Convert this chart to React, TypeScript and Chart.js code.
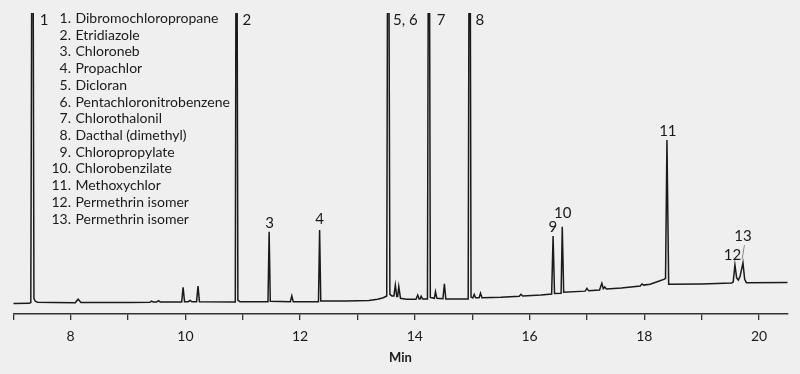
import React, { useEffect, useRef } from "react";
import { Chart, registerables } from "chart.js";

Chart.register(...registerables);

// Chromatogram trace (retention time in min, detector signal in relative units)
const traceTime = [
  7.0, 7.28, 7.305, 7.335, 7.36, 7.38, 7.42, 7.7, 8.08, 8.13, 8.18, 9.0, 9.38, 9.41, 9.44, 9.5, 9.53, 9.56,
  9.935, 9.96, 9.985, 10.05, 10.08, 10.11, 10.195, 10.22, 10.245, 10.87, 10.89, 10.915, 10.95,
  11.44, 11.46, 11.48, 11.83, 11.855, 11.88, 12.32, 12.34, 12.36, 12.8, 13.2, 13.35, 13.45, 13.51,
  13.535, 13.565, 13.6, 13.635, 13.66, 13.685, 13.7, 13.72, 13.75, 13.85, 14.02, 14.05, 14.075, 14.09,
  14.11, 14.135, 14.22, 14.245, 14.27, 14.34, 14.36, 14.385, 14.49, 14.515, 14.54, 14.93, 14.955,
  14.98, 15.01, 15.035, 15.06, 15.12, 15.145, 15.17, 15.5, 15.82, 15.85, 15.88, 16.2, 16.385, 16.41,
  16.435, 16.55, 16.57, 16.595, 16.97, 17.0, 17.03, 17.22, 17.26, 17.285, 17.31, 17.34, 17.6, 17.93,
  17.96, 17.99, 18.1, 18.25, 18.34, 18.37, 18.395, 18.425, 19.0, 19.52, 19.55, 19.58, 19.61, 19.64,
  19.67, 19.72, 19.75, 19.78, 20.5,
];
const traceSignal = [
  3.5, 3.55, 3.8, 200, 5.2, 4.3, 3.9, 3.8, 3.75, 4.9, 3.8, 3.85, 3.9, 4.3, 3.95, 3.95, 4.4, 4.0,
  4.0, 8.9, 4.1, 4.1, 4.5, 4.1, 4.1, 9.3, 4.1, 3.95, 200, 4.6, 4.1,
  4.1, 27.3, 4.2, 4.1, 6.0, 4.1, 4.1, 27.9, 4.3, 4.3, 4.5, 4.9, 5.4, 6.0,
  200, 6.5, 6.0, 6.0, 9.6, 5.8, 5.8, 9.1, 5.2, 4.9, 4.9, 6.3, 5.0, 5.0,
  5.9, 5.0, 5.0, 200, 5.5, 5.2, 7.4, 5.2, 5.1, 10.0, 5.0, 5.0, 200,
  5.6, 5.3, 6.5, 5.4, 5.4, 6.9, 5.4, 5.55, 5.9, 6.55, 6.0, 6.3, 6.65, 25.9,
  6.85, 6.9, 29.0, 7.2, 7.6, 8.5, 7.7, 8.0, 10.2, 8.4, 9.0, 8.3, 8.6, 9.3,
  10.0, 9.6, 9.9, 10.9, 11.5, 11.8, 57.8, 9.9, 10.0, 10.3, 10.6, 16.3, 12.0, 11.3,
  12.5, 17.0, 11.5, 10.4, 10.5,
];

// Peak labels (text, retention time, signal level where the label sits)
const peakLabelText = ["1", "2", "3", "4", "5, 6", "7", "8", "9", "10", "11", "12", "13"];
const peakLabelTime = [7.536, 11.073, 11.468, 12.34, 13.836, 14.459, 15.133, 16.404, 16.579, 18.411, 19.539, 19.721];
const peakLabelSignal = [97.7, 97.7, 30.3, 31.6, 97.7, 97.7, 97.7, 29.0, 33.65, 60.8, 19.7, 25.9];
// Leader line for peak 13 (time, signal)
const leaderTime = [19.746, 19.706];
const leaderSignal = [22.9, 18.2];

// Compound list
const compoundNumbers = ["1.", "2.", "3.", "4.", "5.", "6.", "7.", "8.", "9.", "10.", "11.", "12.", "13."];
const compoundNames = [
  "Dibromochloropropane",
  "Etridiazole",
  "Chloroneb",
  "Propachlor",
  "Dicloran",
  "Pentachloronitrobenzene",
  "Chlorothalonil",
  "Dacthal (dimethyl)",
  "Chloropropylate",
  "Chlorobenzilate",
  "Methoxychlor",
  "Permethrin isomer",
  "Permethrin isomer",
];

const xTicks = [7, 8, 9, 10, 11, 12, 13, 14, 15, 16, 17, 18, 19, 20];

const FONT = "Lato, 'Open Sans', sans-serif";
const INK = "#1a1a1a";

export default function App() {
  const ref = useRef<HTMLCanvasElement | null>(null);

  useEffect(() => {
    document.body.style.margin = "0";
    document.body.style.background = "#efefef";
    const canvas = ref.current;
    if (!canvas) return;

    const annotations = {
      id: "annotations",
      afterDatasetsDraw(chart: any) {
        const ctx = chart.ctx;
        const xs = chart.scales.x;
        const ys = chart.scales.y;
        ctx.save();
        ctx.fillStyle = INK;
        ctx.textBaseline = "middle";
        ctx.font = `15px ${FONT}`;
        ctx.textAlign = "center";
        peakLabelText.forEach((t, i) => {
          ctx.fillText(t, xs.getPixelForValue(peakLabelTime[i]), ys.getPixelForValue(peakLabelSignal[i]));
        });
        ctx.strokeStyle = "#888";
        ctx.lineWidth = 1;
        ctx.beginPath();
        ctx.moveTo(xs.getPixelForValue(leaderTime[0]), ys.getPixelForValue(leaderSignal[0]));
        ctx.lineTo(xs.getPixelForValue(leaderTime[1]), ys.getPixelForValue(leaderSignal[1]));
        ctx.stroke();

        // compound list
        ctx.font = `14px ${FONT}`;
        const numX = 71;
        const nameX = 75.5;
        const y0 = 18.5;
        const step = 16.72;
        compoundNames.forEach((n, i) => {
          const y = y0 + i * step;
          ctx.textAlign = "right";
          ctx.fillText(compoundNumbers[i], numX, y);
          ctx.textAlign = "left";
          ctx.fillText(n, nameX, y);
        });
        ctx.restore();
      },
    };

    const chart = new Chart(canvas, {
      type: "line",
      data: {
        datasets: [
          {
            data: traceTime.map((t, i) => ({ x: t, y: traceSignal[i] })),
            borderColor: "#1a1a1a",
            borderWidth: 1.5,
            pointRadius: 0,
            tension: 0,
            fill: false,
            clip: 0,
          },
        ],
      },
      options: {
        responsive: false,
        animation: false,
        events: [],
        layout: { padding: { left: 13.3, right: 12.3, top: 13, bottom: 0 } },
        plugins: { legend: { display: false }, tooltip: { enabled: false }, title: { display: false } },
        scales: {
          x: {
            type: "linear",
            min: 7,
            max: 20.5,
            afterBuildTicks: (scale: any) => {
              scale.ticks = xTicks.map((v) => ({ value: v }));
            },
            afterFit: (scale: any) => {
              scale.height = 60;
            },
            ticks: {
              autoSkip: false,
              maxRotation: 0,
              padding: 8,
              color: INK,
              font: { family: FONT, size: 14 },
              callback: (v: any) => (Number(v) % 2 === 0 ? String(v) : ""),
            },
            grid: {
              display: true,
              drawOnChartArea: false,
              drawTicks: true,
              tickLength: 6,
              color: "#333",
              lineWidth: 1.3,
            },
            border: { display: true, color: "#333", width: 1.5 },
            title: {
              display: true,
              text: "Min",
              color: INK,
              font: { family: FONT, size: 13, weight: "bold" },
              padding: { top: 0, bottom: 8 },
            },
          },
          y: {
            display: false,
            min: 0,
            max: 100,
          },
        },
      },
      plugins: [annotations],
    });

    return () => chart.destroy();
  }, []);

  return (
    <div style={{ width: 800, height: 374, background: "#efefef" }}>
      <canvas ref={ref} width={800} height={374} />
    </div>
  );
}
